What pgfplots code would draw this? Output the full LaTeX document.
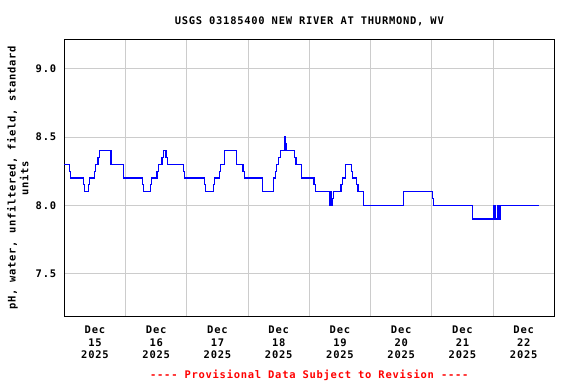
\documentclass[border=0pt]{standalone}
\usepackage{pgfplots}
\pgfplotsset{compat=1.18}
\usepackage{fontspec}
\setmainfont{DejaVu Sans Mono}[Ligatures=TeXOff, LetterSpace=7]
\definecolor{gridc}{RGB}{204,204,204}
\newcommand{\lblfont}{\bfseries\fontsize{10.5}{12.7}\selectfont}
\begin{document}
\begin{tikzpicture}
\useasboundingbox (-64.3bp,-68bp) rectangle (511.7bp,316bp);
\begin{axis}[
  at={(0,0)}, anchor=south west,
  scale only axis, width=490bp, height=276bp,
  xmin=0, xmax=192, ymin=7.19, ymax=9.21,
  axis line style={black, line width=1bp},
  xtick={12,36,60,84,108,132,156,180},
  xticklabels={Dec\\15\\2025,Dec\\16\\2025,Dec\\17\\2025,Dec\\18\\2025,Dec\\19\\2025,Dec\\20\\2025,Dec\\21\\2025,Dec\\22\\2025},
  minor xtick={24,48,72,96,120,144,168},
  xminorgrids=true,
  ytick={7.5,8.0,8.5,9.0},
  yticklabels={7.5,8.0,8.5,9.0},
  ymajorgrids=true,
  major grid style={gridc, line width=1bp},
  minor grid style={gridc, line width=1bp},
  tick style={draw=none},
  major tick length=0pt, minor tick length=0pt,
  /pgf/number format/assume math mode=true,
  xticklabel style={font=\lblfont, align=center, anchor=north, inner sep=0pt, yshift=-9.7bp},
  yticklabel style={font=\lblfont, anchor=east, inner sep=0pt, xshift=-8bp},
  ylabel={pH, water, unfiltered, field, standard\\units},
  ylabel style={at={(axis description cs:-0.095,0.5)}, anchor=center, align=center, inner sep=0pt, font=\lblfont},
  clip=false,
]
\addplot[const plot, color={rgb,255:red,0;green,0;blue,255}, line width=1.3bp] coordinates {
(0,8.3) (1.97,8.25) (2.50,8.2) (7.46,8.15) (7.98,8.1) (9.42,8.15) (9.94,8.2)
(11.77,8.25) (12.29,8.3) (13.2,8.35) (13.86,8.4) (18.3,8.3) (23.13,8.2)
(30.71,8.15) (31.1,8.1) (33.71,8.15) (34.23,8.2) (36.32,8.25) (36.84,8.3)
(38.28,8.35) (38.80,8.4) (39.85,8.35) (40.37,8.3) (46.64,8.25) (47.17,8.2)
(54.87,8.15) (55.39,8.1) (58.4,8.15) (58.92,8.2) (60.75,8.25) (61.27,8.3)
(62.84,8.4) (67.41,8.3) (70.02,8.25) (70.54,8.2) (77.6,8.1) (82.04,8.2)
(82.69,8.25) (83.21,8.3) (84.0,8.35) (84.65,8.4) (86.48,8.5) (86.74,8.45)
(87.0,8.4) (90.27,8.35) (90.79,8.3) (92.88,8.2) (97.84,8.15) (98.36,8.1)
(103.85,8.0) (104.11,8.1) (104.63,8.0) (105.02,8.05) (105.55,8.1)
(108.42,8.15) (109.08,8.2) (110.12,8.3) (112.47,8.25) (112.99,8.2)
(114.56,8.15) (115.08,8.1) (117.3,8.0) (132.85,8.1) (144.21,8.05)
(144.73,8.0) (159.88,7.9) (168.37,8.0) (168.76,7.9) (169.82,8.0)
(170.21,7.9) (170.72,8.0) (185.88,8.0)
};
\node[anchor=base, font=\lblfont, inner sep=0pt] at (rel axis cs:0.5,1) [yshift=15.5bp] {USGS 03185400 NEW RIVER AT THURMOND, WV};
\node[anchor=base, red, font=\lblfont, inner sep=0pt] at (rel axis cs:0.5,0) [yshift=-62.3bp] {---- Provisional Data Subject to Revision ----};
\end{axis}
\end{tikzpicture}
\end{document}
